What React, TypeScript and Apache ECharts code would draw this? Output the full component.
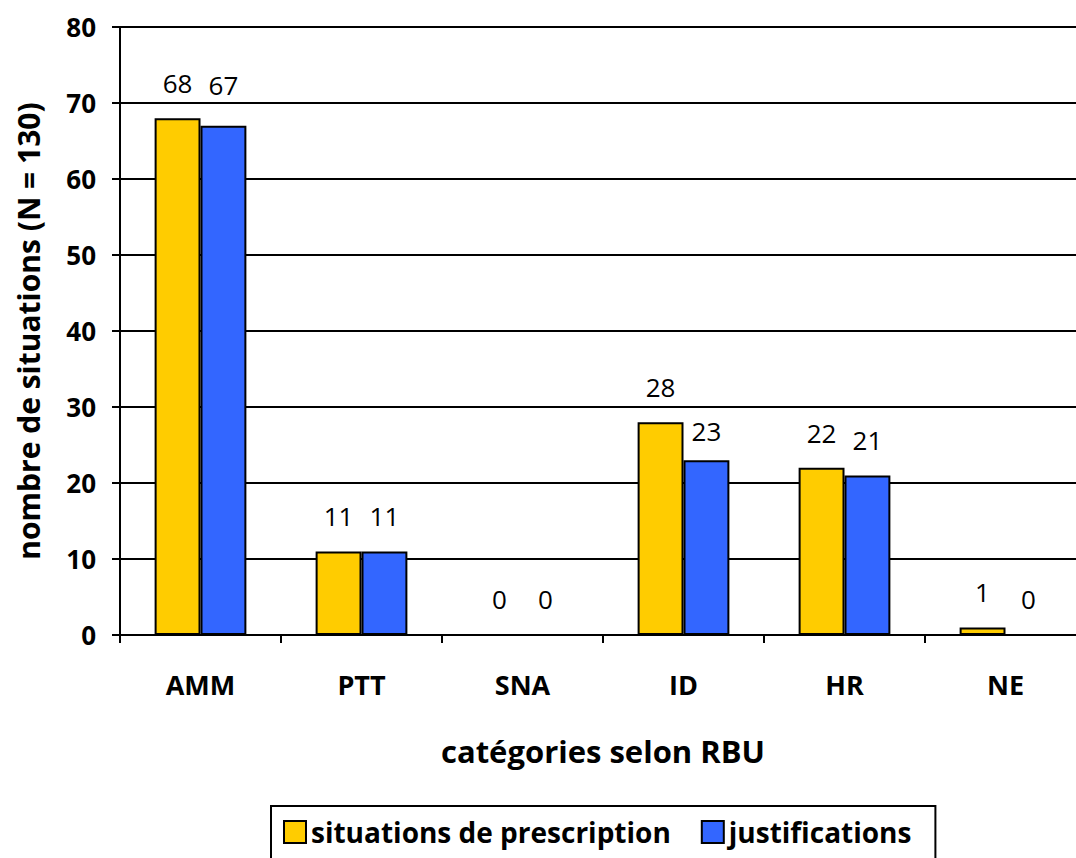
import React, { useEffect, useRef } from "react";
import * as echarts from "echarts";

const categories = ["AMM", "PTT", "SNA", "ID", "HR", "NE"];
const prescriptions = [68, 11, 0, 28, 22, 1];
const justifications = [67, 11, 0, 23, 21, 0];
const seriesNames = ["situations de prescription", "justifications"];

const FONT = "'Open Sans', 'Noto Sans', sans-serif";

// label distance tweaks (style only), keyed by category index
const labelDistA: Record<number, number> = {};
const labelDistB: Record<number, number> = { 0: 28, 3: 16 };

function buildData(values: number[], dist: Record<number, number>) {
  return values.map((v, i) =>
    dist[i] !== undefined ? { value: v, label: { distance: dist[i] } } : v
  );
}

export default function App() {
  const ref = useRef<HTMLDivElement>(null);
  useEffect(() => {
    const chart = echarts.init(ref.current!, null, { renderer: "svg" });
    const label = {
      show: true,
      position: "top",
      distance: 22,
      color: "#000",
      fontFamily: FONT,
      fontSize: 26,
    };
    chart.setOption({
      animation: false,
      backgroundColor: "#fff",
      grid: { left: 120, right: 0, top: 27, bottom: 223, containLabel: false },
      legend: {
        left: 271,
        top: 806,
        icon: "rect",
        itemWidth: 22,
        itemHeight: 22,
        itemGap: 30,
        padding: [12, 24, 20, 12],
        borderColor: "#000",
        borderWidth: 2,
        textStyle: {
          fontFamily: FONT,
          fontSize: 28,
          fontWeight: "bold",
          color: "#000",
        },
        data: seriesNames,
      },
      xAxis: {
        type: "category",
        data: categories,
        name: "catégories selon RBU",
        nameLocation: "middle",
        nameGap: 100,
        nameTextStyle: { fontFamily: FONT, fontSize: 31, fontWeight: "bold", color: "#000" },
        axisLine: { lineStyle: { color: "#000", width: 2 } },
        axisTick: { show: true, length: 8, lineStyle: { color: "#000", width: 2 } },
        axisLabel: { fontFamily: FONT, fontSize: 27, fontWeight: "bold", color: "#000", margin: 36 },
      },
      yAxis: {
        type: "value",
        min: 0,
        max: 80,
        interval: 10,
        name: "nombre de situations (N = 130)",
        nameLocation: "middle",
        nameGap: 77,
        nameRotate: 90,
        nameTextStyle: { fontFamily: FONT, fontSize: 30, fontWeight: "bold", color: "#000" },
        axisLine: { show: true, lineStyle: { color: "#000", width: 2 } },
        axisTick: { show: true, length: 8, lineStyle: { color: "#000", width: 2 } },
        axisLabel: { fontFamily: FONT, fontSize: 26, fontWeight: "bold", color: "#000", margin: 24 },
        splitLine: { lineStyle: { color: "#000", width: 2 } },
      },
      series: [
        {
          name: seriesNames[0],
          type: "bar",
          data: buildData(prescriptions, labelDistA),
          barGap: "0%",
          barCategoryGap: "43%",
          itemStyle: { color: "#FFCC00", borderColor: "#000", borderWidth: 2 },
          label,
        },
        {
          name: seriesNames[1],
          type: "bar",
          data: buildData(justifications, labelDistB),
          itemStyle: { color: "#3366FF", borderColor: "#000", borderWidth: 2 },
          label,
        },
      ],
    });
    return () => chart.dispose();
  }, []);
  return (
    <div style={{ width: 1076, height: 858, position: "absolute", left: 0, top: 0, overflow: "hidden" }}>
      <div ref={ref} style={{ width: 1086, height: 858 }} />
    </div>
  );
}
